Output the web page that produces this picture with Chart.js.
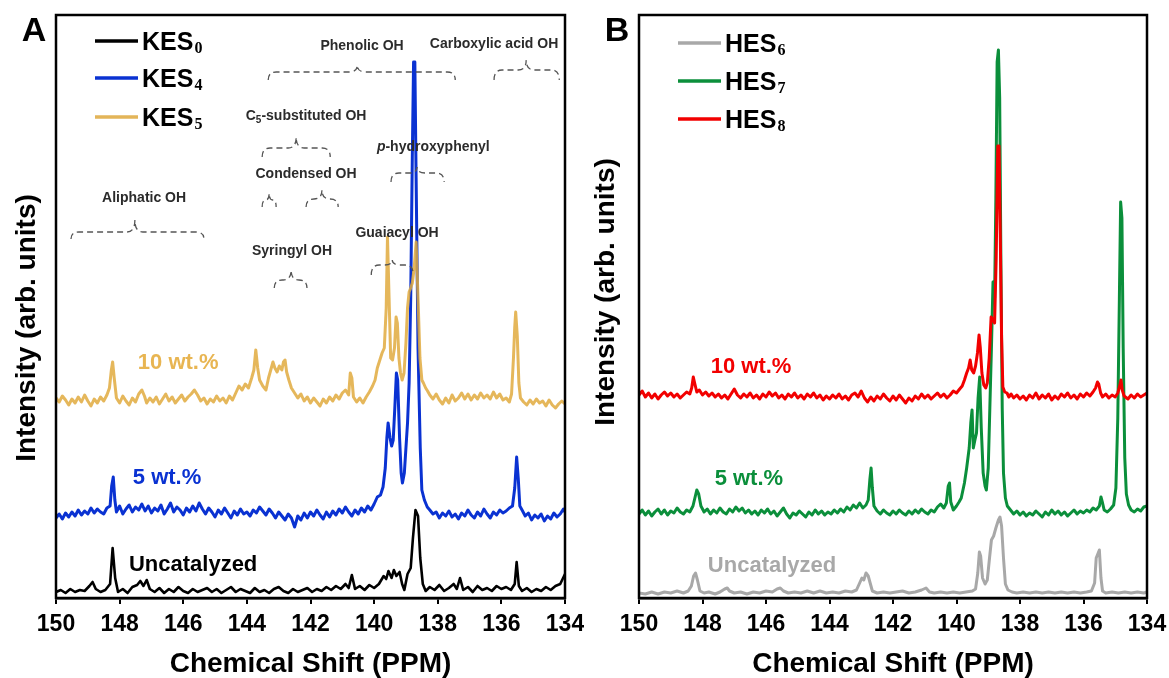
<!DOCTYPE html>
<html>
<head>
<meta charset="utf-8">
<title>31P NMR</title>
<script src="https://cdn.jsdelivr.net/npm/chart.js@4.4.1/dist/chart.umd.min.js"></script>
<style>
  body { margin: 0; background: #fff; overflow: hidden; }
  #wrap { position: relative; width: 1169px; height: 678px; }
  canvas { position: absolute; top: 0; }
</style>
</head>
<body>
<div id="wrap">
  <canvas id="chartA" width="584" height="678" style="left:0"></canvas>
  <canvas id="chartB" width="585" height="678" style="left:584px"></canvas>
</div>
<script>
// [ppm, intensity], intensity already offset per trace
const kes0 = [
  [150.0,6],[149.85,8],[149.7,5],[149.55,9],[149.4,6],[149.25,8],[149.1,7],[148.95,12],[148.85,16],[148.75,9],
  [148.6,6],[148.45,8],[148.3,14],[148.22,50],[148.14,20],[148.05,6],[147.9,9],[147.75,5],[147.6,11],[147.45,13],
  [147.35,17],[147.25,12],[147.15,18],[147.05,9],[146.9,6],[146.75,10],[146.6,5],[146.45,9],[146.3,6],[146.15,11],
  [146.0,7],[145.85,5],[145.7,9],[145.55,6],[145.4,8],[145.25,10],[145.1,6],[144.95,9],[144.8,5],[144.65,8],
  [144.5,11],[144.35,6],[144.2,9],[144.05,7],[143.9,5],[143.75,10],[143.6,6],[143.45,8],[143.3,5],[143.15,9],
  [143.0,11],[142.85,7],[142.7,5],[142.55,9],[142.4,6],[142.25,8],[142.1,10],[141.95,6],[141.8,9],[141.65,7],
  [141.5,11],[141.35,8],[141.2,12],[141.05,9],[140.9,14],[140.8,10],[140.7,23],[140.6,9],[140.45,12],[140.3,8],
  [140.15,13],[140.0,10],[139.85,14],[139.7,22],[139.62,19],[139.55,27],[139.45,20],[139.38,28],[139.3,22],[139.2,26],
  [139.12,14],[139.05,8],[138.95,24],[138.85,30],[138.78,60],[138.7,88],[138.62,82],[138.55,40],[138.47,14],[138.38,7],
  [138.25,11],[138.1,8],[137.95,13],[137.8,7],[137.65,10],[137.5,14],[137.4,9],[137.3,20],[137.2,8],[137.05,11],
  [136.9,6],[136.75,12],[136.6,8],[136.45,10],[136.3,7],[136.15,12],[136.0,9],[135.85,11],[135.7,8],[135.58,14],
  [135.52,36],[135.45,12],[135.35,7],[135.2,10],[135.05,6],[134.9,9],[134.75,7],[134.6,11],[134.45,8],[134.3,12],
  [134.15,14],[134.0,24]
];
const kes4 = [
  [150.0,80],[149.9,84],[149.8,79],[149.7,85],[149.6,81],[149.5,86],[149.4,82],[149.3,88],[149.2,83],[149.1,87],
  [149.0,84],[148.9,90],[148.8,85],[148.7,89],[148.6,86],[148.5,84],[148.4,90],[148.3,92],[148.25,112],[148.2,121],
  [148.15,98],[148.1,86],[148.0,92],[147.9,84],[147.8,89],[147.7,93],[147.6,86],[147.5,91],[147.4,88],[147.3,94],
  [147.2,87],[147.1,92],[147.0,85],[146.9,90],[146.8,87],[146.7,93],[146.6,84],[146.5,89],[146.4,95],[146.3,86],
  [146.2,91],[146.1,88],[146.0,83],[145.9,90],[145.8,86],[145.7,92],[145.6,87],[145.5,95],[145.4,89],[145.3,84],
  [145.2,90],[145.1,86],[145.0,81],[144.9,88],[144.8,84],[144.7,90],[144.6,85],[144.5,80],[144.4,87],[144.3,83],
  [144.2,89],[144.1,84],[144.0,86],[143.9,82],[143.8,88],[143.7,85],[143.6,91],[143.5,87],[143.4,83],[143.3,89],
  [143.2,85],[143.1,80],[143.0,86],[142.9,82],[142.8,78],[142.7,84],[142.6,80],[142.5,71],[142.4,82],[142.3,78],
  [142.2,85],[142.1,80],[142.0,86],[141.9,82],[141.8,88],[141.7,83],[141.6,79],[141.5,86],[141.4,81],[141.3,87],
  [141.2,83],[141.1,89],[141.0,85],[140.9,91],[140.8,86],[140.7,82],[140.6,88],[140.5,84],[140.4,90],[140.3,86],
  [140.2,92],[140.1,88],[140.0,94],[139.9,101],[139.8,103],[139.72,111],[139.65,130],[139.6,160],[139.56,175],[139.5,160],
  [139.45,152],[139.4,158],[139.35,190],[139.3,225],[139.26,218],[139.2,160],[139.15,125],[139.11,115],[139.05,125],[139.0,150],
  [138.95,175],[138.9,215],[138.85,300],[138.8,440],[138.76,536],[138.72,536],[138.68,420],[138.62,250],[138.55,150],[138.5,108],
  [138.42,98],[138.33,91],[138.25,88],[138.15,84],[138.05,86],[137.95,80],[137.85,85],[137.75,82],[137.65,87],[137.55,81],
  [137.45,84],[137.35,79],[137.25,85],[137.15,82],[137.05,88],[136.95,83],[136.85,80],[136.75,86],[136.65,82],[136.55,89],
  [136.45,84],[136.35,80],[136.25,86],[136.15,83],[136.05,88],[135.95,85],[135.85,87],[135.75,90],[135.65,92],[135.58,110],
  [135.52,141],[135.47,120],[135.42,92],[135.35,88],[135.25,82],[135.15,85],[135.05,78],[134.95,83],[134.85,80],[134.75,84],
  [134.65,77],[134.55,82],[134.45,79],[134.35,85],[134.25,81],[134.15,84],[134.05,89],[134.0,86]
];
const kes5 = [
  [150.0,200],[149.9,196],[149.8,202],[149.7,198],[149.6,193],[149.5,199],[149.4,195],[149.3,201],[149.2,196],[149.1,203],
  [149.0,197],[148.9,192],[148.8,199],[148.7,195],[148.6,201],[148.5,197],[148.4,203],[148.32,210],[148.26,228],[148.22,236],
  [148.17,220],[148.1,200],[148.0,195],[147.9,202],[147.8,197],[147.7,193],[147.6,200],[147.5,196],[147.4,204],[147.3,208],
  [147.22,202],[147.15,195],[147.05,200],[146.95,196],[146.85,201],[146.75,194],[146.65,199],[146.55,204],[146.45,197],[146.35,201],
  [146.25,195],[146.15,199],[146.05,203],[145.95,197],[145.85,201],[145.75,204],[145.65,208],[145.55,203],[145.45,197],[145.35,200],
  [145.25,194],[145.15,199],[145.05,196],[144.95,202],[144.85,197],[144.75,200],[144.65,195],[144.55,202],[144.45,198],[144.35,205],
  [144.25,212],[144.15,208],[144.05,214],[143.95,210],[143.85,220],[143.78,228],[143.72,248],[143.66,230],[143.6,218],[143.5,212],
  [143.4,208],[143.32,220],[143.25,228],[143.18,236],[143.12,230],[143.05,226],[142.98,232],[142.9,228],[142.85,236],[142.8,238],
  [142.75,226],[142.68,218],[142.6,210],[142.5,205],[142.4,200],[142.3,204],[142.2,197],[142.1,201],[142.0,195],[141.9,200],
  [141.8,196],[141.7,192],[141.6,199],[141.5,195],[141.4,201],[141.3,197],[141.2,203],[141.1,199],[141.0,205],[140.9,208],
  [140.8,203],[140.75,225],[140.7,220],[140.65,201],[140.55,196],[140.45,200],[140.35,195],[140.25,201],[140.15,206],[140.05,212],
  [139.97,218],[139.9,230],[139.82,238],[139.75,245],[139.68,250],[139.62,290],[139.58,361],[139.53,300],[139.48,240],[139.42,238],
  [139.36,250],[139.31,281],[139.27,275],[139.22,240],[139.17,225],[139.12,218],[139.06,225],[139.0,255],[138.95,290],[138.9,306],
  [138.85,310],[138.8,315],[138.74,330],[138.68,356],[138.62,300],[138.56,240],[138.5,218],[138.45,215],[138.38,210],[138.32,207],
  [138.25,203],[138.15,199],[138.05,204],[137.95,198],[137.85,194],[137.75,200],[137.65,195],[137.55,203],[137.45,197],[137.35,200],
  [137.25,205],[137.15,199],[137.05,204],[136.95,198],[136.85,203],[136.75,199],[136.65,205],[136.55,200],[136.45,203],[136.35,199],
  [136.25,206],[136.15,200],[136.05,204],[135.95,198],[135.85,200],[135.75,196],[135.68,204],[135.62,240],[135.58,271],[135.55,286],
  [135.5,262],[135.45,215],[135.4,200],[135.3,196],[135.2,193],[135.1,198],[135.0,194],[134.9,199],[134.8,195],[134.7,197],
  [134.6,192],[134.5,198],[134.4,193],[134.3,190],[134.2,194],[134.1,197],[134.0,194]
];
const hes6 = [
  [150.0,5],[149.8,4],[149.6,6],[149.4,4],[149.2,6],[149.0,5],[148.8,7],[148.6,5],[148.45,7],[148.35,12],
  [148.28,22],[148.22,25],[148.16,18],[148.08,7],[147.95,5],[147.8,6],[147.6,4],[147.45,6],[147.3,9],[147.22,10],
  [147.15,7],[147.0,5],[146.8,6],[146.6,4],[146.4,6],[146.2,5],[146.0,7],[145.8,6],[145.65,9],[145.55,10],
  [145.45,7],[145.3,5],[145.1,6],[144.9,5],[144.7,7],[144.5,5],[144.3,7],[144.1,5],[143.9,6],[143.7,5],
  [143.5,7],[143.3,6],[143.15,8],[143.05,15],[142.98,20],[142.92,18],[142.85,25],[142.78,22],[142.72,15],[142.65,7],
  [142.5,5],[142.3,6],[142.1,5],[141.9,6],[141.7,7],[141.5,5],[141.3,6],[141.1,8],[140.96,10],[140.85,6],
  [140.7,5],[140.5,6],[140.3,5],[140.1,6],[139.9,5],[139.7,6],[139.5,7],[139.4,9],[139.33,25],[139.28,46],
  [139.24,42],[139.18,20],[139.1,14],[139.03,18],[138.96,40],[138.9,58],[138.83,62],[138.76,70],[138.68,78],[138.63,81],
  [138.58,72],[138.52,40],[138.46,14],[138.38,8],[138.25,6],[138.1,5],[137.9,6],[137.7,5],[137.5,6],[137.3,5],
  [137.1,6],[136.9,5],[136.7,6],[136.5,5],[136.3,6],[136.1,5],[135.9,6],[135.75,7],[135.65,15],[135.6,40],
  [135.55,44],[135.5,48],[135.45,20],[135.4,7],[135.3,5],[135.1,6],[134.9,5],[134.7,6],[134.5,5],[134.3,6],
  [134.1,5],[134.0,6]
];
const hes7 = [
  [150.0,84],[149.9,88],[149.8,83],[149.7,87],[149.6,82],[149.5,86],[149.4,89],[149.3,84],[149.2,88],[149.1,83],
  [149.0,87],[148.9,85],[148.8,90],[148.7,86],[148.6,84],[148.5,88],[148.4,86],[148.3,92],[148.24,100],[148.18,108],
  [148.12,104],[148.05,92],[147.95,86],[147.85,89],[147.75,84],[147.65,88],[147.55,85],[147.45,90],[147.35,86],[147.25,84],
  [147.15,89],[147.05,86],[146.95,91],[146.85,87],[146.75,90],[146.65,85],[146.55,88],[146.45,84],[146.35,87],[146.25,83],
  [146.15,88],[146.05,85],[145.95,89],[145.85,84],[145.75,87],[145.65,82],[145.55,86],[145.45,90],[145.35,84],[145.25,80],
  [145.15,85],[145.05,83],[144.95,87],[144.85,84],[144.75,81],[144.65,86],[144.55,83],[144.45,88],[144.35,84],[144.25,87],
  [144.15,83],[144.05,86],[143.95,84],[143.85,88],[143.75,85],[143.65,89],[143.55,86],[143.45,91],[143.35,88],[143.25,93],
  [143.15,90],[143.05,95],[142.95,90],[142.85,93],[142.78,98],[142.73,118],[142.69,130],[142.65,110],[142.6,92],[142.5,87],
  [142.4,84],[142.3,88],[142.2,85],[142.1,83],[142.0,87],[141.9,84],[141.8,88],[141.7,85],[141.6,83],[141.5,87],
  [141.4,84],[141.3,88],[141.2,85],[141.1,89],[141.0,86],[140.9,84],[140.8,88],[140.7,86],[140.6,91],[140.5,94],
  [140.4,90],[140.32,95],[140.26,112],[140.22,115],[140.18,96],[140.1,88],[140.0,92],[139.92,96],[139.85,100],[139.75,115],
  [139.68,130],[139.6,150],[139.55,175],[139.51,188],[139.47,150],[139.42,158],[139.37,165],[139.32,200],[139.27,221],[139.22,170],
  [139.16,125],[139.1,112],[139.06,108],[139.0,130],[138.95,190],[138.9,250],[138.85,316],[138.8,300],[138.76,400],[138.72,536],
  [138.68,548],[138.64,500],[138.6,330],[138.56,190],[138.52,125],[138.46,100],[138.4,92],[138.3,88],[138.2,84],[138.1,87],
  [138.0,83],[137.9,86],[137.8,82],[137.7,85],[137.6,83],[137.5,87],[137.4,84],[137.3,81],[137.2,86],[137.1,83],
  [137.0,88],[136.9,84],[136.8,87],[136.7,83],[136.6,86],[136.5,82],[136.4,85],[136.3,88],[136.2,84],[136.1,87],
  [136.0,85],[135.9,88],[135.8,86],[135.7,90],[135.6,88],[135.5,92],[135.45,101],[135.4,95],[135.35,88],[135.25,86],
  [135.15,89],[135.05,93],[134.98,110],[134.92,180],[134.87,300],[134.83,396],[134.79,380],[134.75,250],[134.7,140],[134.65,104],
  [134.58,93],[134.5,88],[134.4,86],[134.3,89],[134.2,87],[134.1,91],[134.0,92]
];
const hes8 = [
  [150.0,203],[149.9,207],[149.8,201],[149.7,205],[149.6,200],[149.5,204],[149.4,199],[149.3,203],[149.2,206],[149.1,202],
  [149.0,205],[148.9,201],[148.8,204],[148.7,200],[148.6,203],[148.5,206],[148.4,204],[148.34,210],[148.29,221],[148.24,214],
  [148.18,206],[148.1,208],[148.0,203],[147.9,206],[147.8,202],[147.7,205],[147.6,201],[147.5,204],[147.4,200],[147.3,203],
  [147.2,199],[147.1,204],[147.0,209],[146.9,203],[146.8,200],[146.7,204],[146.6,201],[146.5,205],[146.4,200],[146.3,203],
  [146.2,199],[146.1,204],[146.0,201],[145.9,206],[145.8,202],[145.7,205],[145.6,200],[145.5,203],[145.4,199],[145.3,204],
  [145.2,201],[145.1,205],[145.0,200],[144.9,203],[144.8,199],[144.7,204],[144.6,201],[144.5,205],[144.4,200],[144.3,203],
  [144.2,198],[144.1,202],[144.0,199],[143.9,203],[143.8,200],[143.7,204],[143.6,199],[143.5,202],[143.4,198],[143.3,203],
  [143.2,205],[143.1,201],[143.0,207],[142.9,200],[142.8,196],[142.7,201],[142.6,197],[142.5,202],[142.4,199],[142.3,204],
  [142.2,200],[142.1,197],[142.0,202],[141.9,198],[141.8,203],[141.7,199],[141.6,195],[141.5,200],[141.4,197],[141.3,202],
  [141.2,199],[141.1,204],[141.0,200],[140.9,203],[140.8,199],[140.7,202],[140.6,205],[140.5,201],[140.4,204],[140.3,200],
  [140.2,203],[140.1,207],[140.0,205],[139.9,209],[139.82,212],[139.75,218],[139.68,225],[139.62,230],[139.57,238],[139.52,228],
  [139.46,225],[139.4,232],[139.34,245],[139.29,263],[139.25,250],[139.2,225],[139.14,213],[139.08,210],[139.03,215],[138.97,240],
  [138.91,281],[138.85,278],[138.8,275],[138.75,340],[138.7,452],[138.66,452],[138.62,360],[138.58,260],[138.54,211],[138.48,206],
  [138.41,205],[138.35,201],[138.28,204],[138.2,200],[138.1,203],[138.0,199],[137.9,202],[137.8,198],[137.7,203],[137.6,200],
  [137.5,205],[137.4,199],[137.3,203],[137.2,200],[137.1,204],[137.0,198],[136.9,202],[136.8,199],[136.7,204],[136.6,201],
  [136.5,205],[136.4,200],[136.3,203],[136.2,199],[136.1,204],[136.0,201],[135.9,205],[135.8,202],[135.7,206],[135.62,210],
  [135.56,216],[135.52,214],[135.46,205],[135.4,201],[135.3,204],[135.2,200],[135.1,203],[135.0,201],[134.92,205],[134.86,212],
  [134.82,218],[134.78,208],[134.72,202],[134.6,199],[134.5,203],[134.4,200],[134.3,204],[134.2,201],[134.1,203],[134.0,205]
];

const namesA = ['KES0', 'KES4', 'KES5'];
const namesB = ['HES6', 'HES7', 'HES8'];
const tagsA = ['Uncatalyzed', '5 wt.%', '10 wt.%'];
const tagsB = ['Uncatalyzed', '5 wt.%', '10 wt.%'];

Chart.defaults.font.family = '"Liberation Sans", Arial, sans-serif';
Chart.defaults.color = '#000';

function series(label, points, color, width, order) {
    return {
        label: label,
        data: points.map(p => ({x: p[0], y: p[1]})),
        borderColor: color,
        borderWidth: width,
        pointRadius: 0,
        tension: 0,
        fill: false,
        order: order,
        borderJoinStyle: 'round',
    };
}

function drawBrace(ctx, x1, x2, xt, yEnd, yFlat, yTip) {
    const r = Math.min(8, (xt - x1) / 2, (x2 - xt) / 2);
    ctx.beginPath();
    ctx.moveTo(x1, yEnd);
    ctx.quadraticCurveTo(x1, yFlat, x1 + r, yFlat);
    ctx.lineTo(xt - r, yFlat);
    ctx.quadraticCurveTo(xt, yFlat, xt, yTip);
    ctx.quadraticCurveTo(xt, yFlat, xt + r, yFlat);
    ctx.lineTo(x2 - r, yFlat);
    ctx.quadraticCurveTo(x2, yFlat, x2, yEnd);
    ctx.stroke();
}

// text made of runs: {t, sub, italic}
function drawRuns(ctx, runs, cx, cy, size) {
    const fontOf = r => (r.italic ? 'italic ' : '') + 'bold ' + (r.sub ? Math.round(size * 0.7) : size) + 'px "Liberation Sans", Arial';
    let total = 0;
    runs.forEach(r => { ctx.font = fontOf(r); total += ctx.measureText(r.t).width; });
    let x = cx - total / 2;
    ctx.textAlign = 'left';
    ctx.textBaseline = 'alphabetic';
    runs.forEach(r => {
        ctx.font = fontOf(r);
        ctx.fillText(r.t, x, cy + size * 0.36 + (r.sub ? size * 0.2 : 0));
        x += ctx.measureText(r.t).width;
    });
}

const decor = {
    id: 'decor',
    afterDatasetsDraw(chart, args, opts) {
        const {ctx, chartArea: a, scales: {x, y}} = chart;
        ctx.save();
        ctx.strokeStyle = '#000';
        ctx.lineWidth = 2.5;
        ctx.strokeRect(a.left, a.top, a.right - a.left, a.bottom - a.top);

        // brackets over the OH regions
        ctx.setLineDash([6, 4]);
        ctx.strokeStyle = '#555';
        ctx.lineWidth = 1.3;
        (opts.braces || []).forEach(b => {
            drawBrace(ctx, x.getPixelForValue(b.from), x.getPixelForValue(b.to), x.getPixelForValue(b.tip),
                y.getPixelForValue(b.yEnd), y.getPixelForValue(b.yFlat), y.getPixelForValue(b.yTip));
        });
        ctx.setLineDash([]);
        ctx.fillStyle = '#2b2b2b';
        (opts.notes || []).forEach(n => {
            drawRuns(ctx, n.runs, x.getPixelForValue(n.ppm), y.getPixelForValue(n.val), 14);
        });

        // trace tags
        ctx.textAlign = 'center';
        ctx.textBaseline = 'middle';
        ctx.font = 'bold 22px "Liberation Sans", Arial';
        opts.tags.forEach(t => {
            ctx.fillStyle = t.color;
            ctx.fillText(t.text, x.getPixelForValue(t.ppm), y.getPixelForValue(t.val));
        });

        // legend with subscripts
        chart.data.datasets.forEach((ds, i) => {
            const ly = a.top + opts.rows[i];
            const lx = a.left + 39;
            ctx.strokeStyle = opts.legendColors[i];
            ctx.lineWidth = 3.5;
            ctx.beginPath();
            ctx.moveTo(lx, ly);
            ctx.lineTo(lx + 43, ly);
            ctx.stroke();
            ctx.fillStyle = '#000';
            ctx.textAlign = 'left';
            ctx.textBaseline = 'alphabetic';
            ctx.font = 'bold 25px "Liberation Sans", Arial';
            const name = ds.label.slice(0, -1);
            ctx.fillText(name, lx + 47, ly + 9);
            const w = ctx.measureText(name).width;
            ctx.font = 'bold 16px "Liberation Serif", serif';
            ctx.fillText(ds.label.slice(-1), lx + 48 + w, ly + 12);
        });

        // panel letter
        ctx.textAlign = 'center';
        ctx.textBaseline = 'middle';
        ctx.font = 'bold 34px "Liberation Sans", Arial';
        ctx.fillText(opts.letter, a.left - 22, a.top + 17);

        // y title
        ctx.translate(opts.yTitleX, opts.yTitleY);
        ctx.rotate(-Math.PI / 2);
        ctx.font = 'bold 28px "Liberation Sans", Arial';
        ctx.fillText('Intensity (arb. units)', 0, 0);
        ctx.restore();
    }
};

function makeConfig(datasets, padding, decorOpts) {
    return {
        type: 'line',
        data: {datasets: datasets},
        plugins: [decor],
        options: {
            responsive: false,
            animation: false,
            events: [],
            layout: {padding: padding},
            plugins: {
                legend: {display: false},
                tooltip: {enabled: false},
                decor: decorOpts,
            },
            scales: {
                x: {
                    type: 'linear',
                    reverse: true,
                    min: 134,
                    max: 150,
                    ticks: {stepSize: 2, padding: 7, maxRotation: 0, autoSkip: false, color: '#000',
                        font: {size: 23, weight: 'bold'}},
                    grid: {drawOnChartArea: false, drawTicks: true, tickLength: 6, color: '#000', lineWidth: 2},
                    border: {display: true, color: '#000', width: 2.5},
                    title: {display: true, text: 'Chemical Shift (PPM)', color: '#000', padding: 0,
                        font: {size: 28, weight: 'bold', lineHeight: 1}},
                    afterFit(scale) {
                        scale.height = 80;
                        // edge labels fit inside the layout padding already
                        scale.paddingLeft = 0;
                        scale.paddingRight = 0;
                    },
                },
                y: {display: false, min: 0, max: 583},
            },
        },
    };
}

const configA = makeConfig([
    series(namesA[0], kes0, '#000000', 2.6, 2),
    series(namesA[1], kes4, '#0a32d2', 3, 1),
    series(namesA[2], kes5, 'rgba(224,170,62,0.85)', 3, 0),
], {top: 15, left: 56, right: 19, bottom: 0}, {
    letter: 'A',
    yTitleX: 27,
    yTitleY: 328,
    rows: [26, 63, 102],
    legendColors: ['#000000', '#0a32d2', '#e3b559'],
    tags: [
        {text: tagsA[0], ppm: 145.69, val: 33, color: '#000000'},
        {text: tagsA[1], ppm: 146.51, val: 120, color: '#0a32d2'},
        {text: tagsA[2], ppm: 146.16, val: 235, color: '#e8b552'},
    ],
    notes: [
        {runs: [{t: 'Phenolic OH'}], ppm: 140.38, val: 553},
        {runs: [{t: 'Carboxylic acid OH'}], ppm: 136.23, val: 555},
        {runs: [{t: 'C'}, {t: '5', sub: true}, {t: '-substituted OH'}], ppm: 142.14, val: 483},
        {runs: [{t: 'p', italic: true}, {t: '-hydroxyphenyl'}], ppm: 138.14, val: 452},
        {runs: [{t: 'Condensed OH'}], ppm: 142.14, val: 425},
        {runs: [{t: 'Aliphatic OH'}], ppm: 147.23, val: 401},
        {runs: [{t: 'Guaiacyl OH'}], ppm: 139.28, val: 366},
        {runs: [{t: 'Syringyl OH'}], ppm: 142.58, val: 348},
    ],
    braces: [
        {from: 143.33, to: 137.45, tip: 140.53, yEnd: 518, yFlat: 526, yTip: 533},
        {from: 136.23, to: 134.18, tip: 135.22, yEnd: 518, yFlat: 528, yTip: 538},
        {from: 143.52, to: 141.38, tip: 142.45, yEnd: 441, yFlat: 450, yTip: 461},
        {from: 139.47, to: 137.8, tip: 138.65, yEnd: 416, yFlat: 425, yTip: 431},
        {from: 143.52, to: 143.08, tip: 143.3, yEnd: 391, yFlat: 398, yTip: 405},
        {from: 142.14, to: 141.13, tip: 141.64, yEnd: 391, yFlat: 399, yTip: 408},
        {from: 149.53, to: 145.35, tip: 147.52, yEnd: 359, yFlat: 366, yTip: 378},
        {from: 140.09, to: 138.77, tip: 139.43, yEnd: 323, yFlat: 333, yTip: 338},
        {from: 143.14, to: 142.11, tip: 142.61, yEnd: 310, yFlat: 318, yTip: 328},
    ],
});

const configB = makeConfig([
    series(namesB[0], hes6, '#a8a8a8', 3, 2),
    series(namesB[1], hes7, '#0b8f3b', 3, 1),
    series(namesB[2], hes8, '#f20000', 3, 0),
], {top: 15, left: 55, right: 22, bottom: 0}, {
    letter: 'B',
    yTitleX: 22,
    yTitleY: 292,
    rows: [28, 66, 104],
    legendColors: ['#a8a8a8', '#0b8f3b', '#f20000'],
    tags: [
        {text: tagsB[0], ppm: 145.81, val: 32, color: '#a8a8a8'},
        {text: tagsB[1], ppm: 146.54, val: 119, color: '#0b8f3b'},
        {text: tagsB[2], ppm: 146.47, val: 231, color: '#f20000'},
    ],
});

const chartA = new Chart(document.getElementById('chartA'), configA);
const chartB = new Chart(document.getElementById('chartB'), configB);
</script>
</body>
</html>
